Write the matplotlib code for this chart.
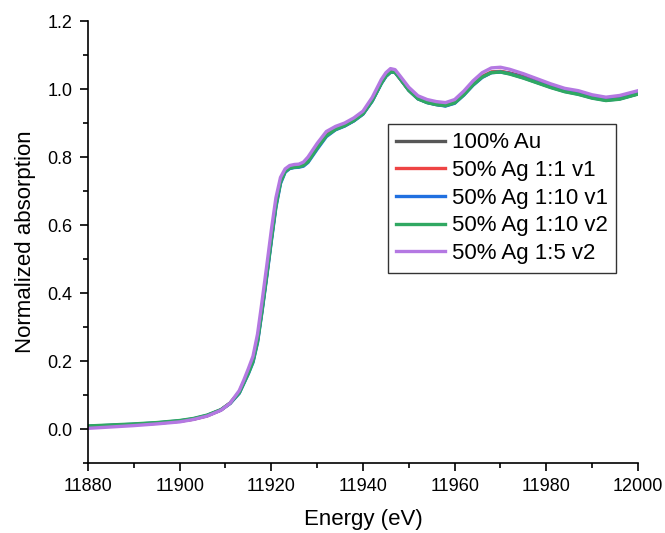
import matplotlib.pyplot as plt

plt.rcParams['font.family'] = ['Liberation Sans', 'DejaVu Sans']

# energy grid (eV)
energy = [11880, 11885, 11890, 11895, 11900, 11903, 11906, 11909, 11911, 11913,
          11914, 11915, 11916, 11917, 11918, 11919, 11920, 11921, 11922, 11923,
          11924, 11925, 11926, 11927, 11928, 11930, 11932, 11934, 11936, 11938,
          11940, 11942, 11944, 11945, 11946, 11947, 11948, 11950, 11952, 11954,
          11956, 11958, 11960, 11962, 11964, 11966, 11968, 11970, 11972, 11975,
          11978, 11981, 11984, 11987, 11990, 11993, 11996, 12000]

au_100 = [0.007, 0.010, 0.013, 0.017, 0.023, 0.029, 0.039, 0.056, 0.076, 0.108,
          0.138, 0.168, 0.202, 0.262, 0.355, 0.455, 0.56, 0.66, 0.728, 0.758,
          0.768, 0.770, 0.772, 0.776, 0.788, 0.828, 0.864, 0.882, 0.892, 0.907,
          0.927, 0.966, 1.018, 1.038, 1.050, 1.049, 1.032, 0.997, 0.972, 0.961,
          0.955, 0.951, 0.960, 0.984, 1.013, 1.036, 1.049, 1.051, 1.047, 1.037,
          1.024, 1.008, 0.995, 0.987, 0.976, 0.968, 0.972, 0.986]

ag_1_1_v1 = [0.007, 0.010, 0.013, 0.017, 0.023, 0.029, 0.039, 0.056, 0.076, 0.108,
             0.138, 0.168, 0.203, 0.264, 0.357, 0.458, 0.562, 0.662, 0.729, 0.759,
             0.769, 0.771, 0.772, 0.777, 0.789, 0.829, 0.865, 0.883, 0.893, 0.908,
             0.928, 0.967, 1.019, 1.039, 1.051, 1.050, 1.032, 0.997, 0.972, 0.961,
             0.955, 0.952, 0.961, 0.985, 1.014, 1.037, 1.050, 1.052, 1.046, 1.034,
             1.020, 1.006, 0.994, 0.986, 0.975, 0.968, 0.972, 0.987]

ag_1_10_v1 = [0.008, 0.011, 0.014, 0.018, 0.024, 0.030, 0.040, 0.056, 0.075, 0.105,
              0.134, 0.163, 0.196, 0.255, 0.348, 0.448, 0.552, 0.652, 0.722, 0.755,
              0.766, 0.769, 0.770, 0.773, 0.784, 0.823, 0.860, 0.880, 0.891, 0.906,
              0.926, 0.964, 1.016, 1.037, 1.049, 1.049, 1.032, 0.996, 0.971, 0.960,
              0.954, 0.950, 0.958, 0.982, 1.011, 1.034, 1.048, 1.050, 1.045, 1.033,
              1.019, 1.005, 0.993, 0.985, 0.974, 0.967, 0.971, 0.986]

ag_1_10_v2 = [0.009, 0.012, 0.015, 0.019, 0.025, 0.031, 0.041, 0.057, 0.076, 0.106,
              0.135, 0.164, 0.198, 0.258, 0.351, 0.452, 0.556, 0.656, 0.725, 0.757,
              0.767, 0.770, 0.771, 0.775, 0.786, 0.826, 0.862, 0.881, 0.892, 0.907,
              0.927, 0.965, 1.017, 1.038, 1.050, 1.049, 1.032, 0.996, 0.971, 0.960,
              0.954, 0.951, 0.959, 0.983, 1.012, 1.035, 1.048, 1.050, 1.044, 1.032,
              1.018, 1.004, 0.992, 0.984, 0.973, 0.966, 0.970, 0.985]

ag_1_5_v2 = [0.002, 0.006, 0.010, 0.015, 0.021, 0.028, 0.038, 0.055, 0.076, 0.113,
             0.144, 0.178, 0.214, 0.280, 0.378, 0.480, 0.585, 0.68, 0.740, 0.765,
             0.775, 0.778, 0.779, 0.785, 0.800, 0.840, 0.875, 0.890, 0.900, 0.915,
             0.935, 0.975, 1.028, 1.048, 1.060, 1.057, 1.040, 1.005, 0.980, 0.969,
             0.963, 0.960, 0.969, 0.994, 1.024, 1.048, 1.062, 1.064, 1.058, 1.045,
             1.030, 1.015, 1.002, 0.995, 0.983, 0.976, 0.981, 0.995]

labels = ["100% Au", "50% Ag 1:1 v1", "50% Ag 1:10 v1", "50% Ag 1:10 v2", "50% Ag 1:5 v2"]
series = [au_100, ag_1_1_v1, ag_1_10_v1, ag_1_10_v2, ag_1_5_v2]
colors = ["#575757", "#ee4444", "#2070e0", "#30a862", "#b478e2"]

fig = plt.figure(figsize=(6.65, 5.33), dpi=100)
ax = fig.add_axes([0.1323, 0.1313, 0.8271, 0.8293])

for y, lab, c in zip(series, labels, colors):
    ax.plot(energy, y, color=c, lw=2.4, label=lab)

ax.set_xlim(11880, 12000)
ax.set_ylim(-0.1, 1.2)
ax.set_xticks(range(11880, 12001, 20))
ax.set_xticks(range(11890, 12000, 20), minor=True)
ax.set_yticks([0.0, 0.2, 0.4, 0.6, 0.8, 1.0, 1.2])
ax.set_yticks([-0.1, 0.1, 0.3, 0.5, 0.7, 0.9, 1.1], minor=True)
ax.set_yticklabels(["0.0", "0.2", "0.4", "0.6", "0.8", "1.0", "1.2"])

for s in ["top", "right"]:
    ax.spines[s].set_visible(False)
for s in ["left", "bottom"]:
    ax.spines[s].set_linewidth(1.2)
ax.tick_params(which="major", direction="out", length=6, width=1.2, labelsize=13, pad=5)
ax.tick_params(which="minor", direction="out", length=3.5, width=1.2)

ax.set_xlabel("Energy (eV)", fontsize=16, labelpad=10)
ax.set_ylabel("Normalized absorption", fontsize=16, labelpad=8)

leg = ax.legend(loc="upper left", bbox_to_anchor=(0.545, 0.767), fontsize=16,
                frameon=True, fancybox=False, edgecolor="black",
                handlelength=2.2, labelspacing=0.3, borderpad=0.38,
                handletextpad=0.3, borderaxespad=0)
leg.get_frame().set_linewidth(1.0)

fig.savefig("out.png", dpi=100)
